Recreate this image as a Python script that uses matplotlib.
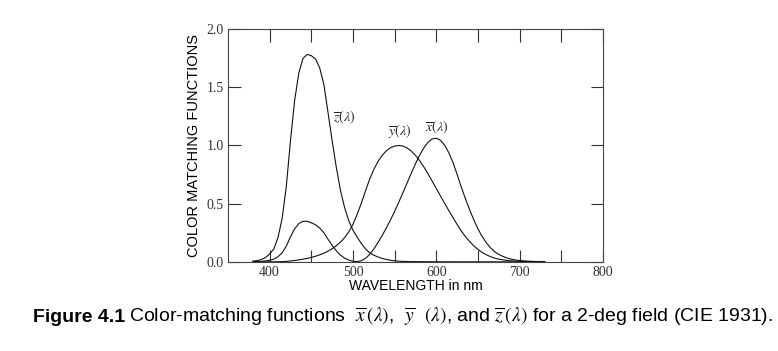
import numpy as np
import matplotlib.pyplot as plt

# CIE 1931 2-deg colour-matching functions, 5 nm steps
wavelength = list(range(380, 735, 5))
x_bar = [0.0014, 0.0022, 0.0042, 0.0077, 0.0143, 0.0232, 0.0435, 0.0776,
         0.1344, 0.2148, 0.2839, 0.3285, 0.3483, 0.3481, 0.3362, 0.3187,
         0.2908, 0.2511, 0.1954, 0.1421, 0.0956, 0.0580, 0.0320, 0.0147,
         0.0049, 0.0024, 0.0093, 0.0291, 0.0633, 0.1096, 0.1655, 0.2258,
         0.2904, 0.3597, 0.4334, 0.5121, 0.5945, 0.6784, 0.7621, 0.8425,
         0.9163, 0.9786, 1.0263, 1.0567, 1.0622, 1.0456, 1.0026, 0.9384,
         0.8544, 0.7514, 0.6424, 0.5419, 0.4479, 0.3608, 0.2835, 0.2187,
         0.1649, 0.1212, 0.0874, 0.0636, 0.0468, 0.0329, 0.0227, 0.0160,
         0.0114, 0.0081, 0.0058, 0.0041, 0.0029, 0.0020, 0.0014]
y_bar = [0.0000, 0.0001, 0.0001, 0.0002, 0.0004, 0.0006, 0.0012, 0.0022,
         0.0040, 0.0073, 0.0116, 0.0168, 0.0230, 0.0298, 0.0380, 0.0480,
         0.0600, 0.0739, 0.0910, 0.1126, 0.1390, 0.1693, 0.2080, 0.2586,
         0.3230, 0.4073, 0.5030, 0.6082, 0.7100, 0.7932, 0.8620, 0.9149,
         0.9540, 0.9803, 0.9950, 1.0000, 0.9950, 0.9786, 0.9520, 0.9154,
         0.8700, 0.8163, 0.7570, 0.6949, 0.6310, 0.5668, 0.5030, 0.4412,
         0.3810, 0.3210, 0.2650, 0.2170, 0.1750, 0.1382, 0.1070, 0.0816,
         0.0610, 0.0446, 0.0320, 0.0232, 0.0170, 0.0119, 0.0082, 0.0057,
         0.0041, 0.0029, 0.0021, 0.0015, 0.0010, 0.0007, 0.0005]
z_bar = [0.0065, 0.0106, 0.0201, 0.0362, 0.0679, 0.1102, 0.2074, 0.3713,
         0.6456, 1.0391, 1.3856, 1.6230, 1.7471, 1.7826, 1.7721, 1.7441,
         1.6692, 1.5281, 1.2876, 1.0419, 0.8130, 0.6162, 0.4652, 0.3533,
         0.2720, 0.2123, 0.1582, 0.1117, 0.0783, 0.0573, 0.0422, 0.0298,
         0.0203, 0.0134, 0.0088, 0.0058, 0.0039, 0.0028, 0.0021, 0.0018,
         0.0017, 0.0014, 0.0011, 0.0010, 0.0008, 0.0006, 0.0003, 0.0002,
         0.0002, 0.0001, 0.0000, 0.0000, 0.0000, 0.0000, 0.0000, 0.0000,
         0.0000, 0.0000, 0.0000, 0.0000, 0.0000, 0.0000, 0.0000, 0.0000,
         0.0000, 0.0000, 0.0000, 0.0000, 0.0000, 0.0000, 0.0000]

labels = [r'$\overline{z}(\lambda)$', r'$\overline{y}(\lambda)$', r'$\overline{x}(\lambda)$']
label_pos = [(490, 1.24), (556, 1.12), (600, 1.16)]

plt.rcParams['mathtext.fontset'] = 'stix'

fig = plt.figure(figsize=(7.78, 3.51), dpi=100)
ax = fig.add_axes([0.293, 0.254, 0.482, 0.663])

for ys in (x_bar, y_bar, z_bar):
    ax.plot(wavelength, ys, color='#111111', lw=0.8)

for txt, (lx, ly) in zip(labels, label_pos):
    ax.text(lx, ly, txt, ha='center', va='center', fontsize=10, color='#222222')

ax.set_xlim(350, 800)
ax.set_ylim(0, 2.0)
ax.set_xticks(np.arange(400, 801, 100))
ax.set_xticks(np.arange(400, 800, 50), minor=True)
ax.set_yticks(np.arange(0, 2.01, 0.5))
ax.set_yticklabels(['0.0', '0.5', '1.0', '1.5', '2.0'])
ax.tick_params(which='both', direction='in', top=True, right=True,
               length=9, width=0.8, colors='#333333', labelsize=10, pad=3)
for lab in ax.get_xticklabels() + ax.get_yticklabels():
    lab.set_family('Liberation Serif')
for s in ax.spines.values():
    s.set_linewidth(0.8)
    s.set_color('#444444')

ax.set_xlabel('WAVELENGTH in nm', family='Liberation Sans', fontsize=10, labelpad=0)
ax.set_ylabel('COLOR MATCHING FUNCTIONS', family='Liberation Sans', fontsize=10.5, labelpad=4)

# caption
fig.canvas.draw()
r = fig.canvas.get_renderer()
base_y = 1 - 322 / 351
t1 = fig.text(33 / 778, base_y, 'Figure 4.1', family='Liberation Sans',
              weight='bold', fontsize=14, va='baseline')
bb = t1.get_window_extent(r)
fig.text(bb.x1 / 778 + 0.005, base_y,
         r'Color-matching functions  $\overline{x}\,(\lambda)$,  $\overline{y}$  $(\lambda)$, and $\overline{z}\,(\lambda)$ for a 2-deg field (CIE 1931).',
         family='Liberation Sans', fontsize=14, va='baseline')

fig.savefig('out.png', dpi=100)
